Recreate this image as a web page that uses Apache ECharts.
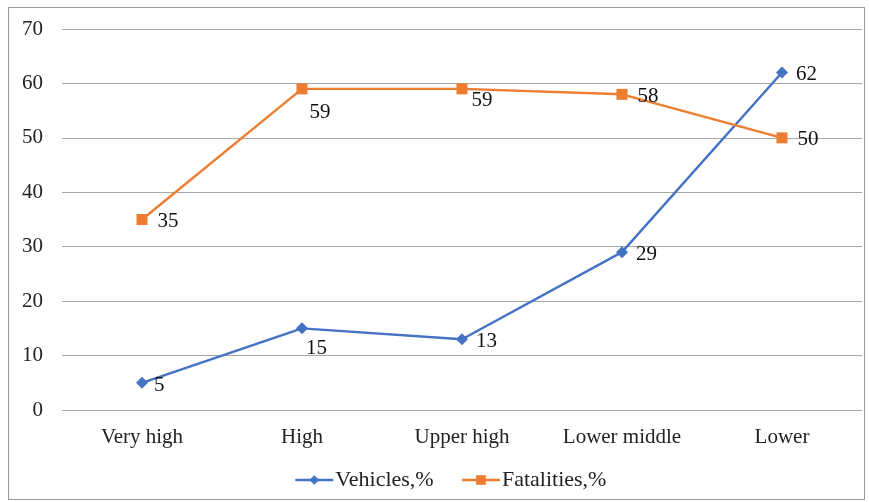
<!DOCTYPE html>
<html><head><meta charset="utf-8">
<script src="https://cdn.jsdelivr.net/npm/echarts@6/dist/echarts.min.js"></script>
<style>html,body{margin:0;padding:0;background:#fff}#c{width:869px;height:502px}
#frame{position:absolute;left:8px;top:7px;width:857px;height:493px;border:1px solid #9a9a9a;box-sizing:border-box;pointer-events:none}</style>
</head><body><div id="c"></div><div id="frame"></div>
<script>
const categories = ['Very high', 'High', 'Upper high', 'Lower middle', 'Lower'];
const vehicles = [5, 15, 13, 29, 62];
const fatalities = [35, 59, 59, 58, 50];
const yTicks = [0, 10, 20, 30, 40, 50, 60, 70];

const vehOffsets = [[-2, 3], [-10, 20], [0, 2], [0, 2], [0, 2]];
const fatOffsets = [[0, 2], [-8, 24], [-6, 12], [0, 2], [0, 2]];
const font = 'Liberation Serif, Times New Roman, serif';

function mk(vals, offs) {
  return vals.map((v, i) => ({ value: v, label: { offset: offs[i] } }));
}

const chart = echarts.init(document.getElementById('c'), null, { renderer: 'canvas' });
chart.setOption({
  animation: false,
  backgroundColor: '#fff',
  grid: { left: 62, right: 7, top: 29, bottom: 92, containLabel: false },
  xAxis: {
    type: 'category', data: categories, boundaryGap: true,
    axisLine: { show: false }, axisTick: { show: false },
    axisLabel: { color: '#222', fontFamily: font, fontSize: 21, margin: 17 }
  },
  yAxis: {
    type: 'value', min: yTicks[0], max: yTicks[yTicks.length - 1], interval: 10,
    axisLine: { show: false }, axisTick: { show: false },
    axisLabel: { color: '#222', fontFamily: font, fontSize: 21, margin: 19 },
    splitLine: { lineStyle: { color: '#a6a6a6', width: 1 } }
  },
  legend: {
    bottom: 6, left: 289, itemWidth: 38, itemHeight: 12, itemGap: 27,
    lineStyle: { width: 2.6 },
    textStyle: { color: '#222', fontFamily: font, fontSize: 22, padding: [0, 0, 0, -3] },
    data: ['Vehicles,%', 'Fatalities,%']
  },
  series: [
    {
      name: 'Vehicles,%', type: 'line', data: mk(vehicles, vehOffsets),
      color: '#4472C4', symbol: 'diamond', symbolSize: 12,
      lineStyle: { width: 2.4, color: '#4472C4' },
      itemStyle: { color: '#4472C4' },
      label: { show: true, position: 'right', distance: 8, color: '#111', fontFamily: font, fontSize: 21 }
    },
    {
      name: 'Fatalities,%', type: 'line', data: mk(fatalities, fatOffsets),
      color: '#ED7D31', symbol: 'rect', symbolSize: 11,
      lineStyle: { width: 2.4, color: '#ED7D31' },
      itemStyle: { color: '#ED7D31' },
      label: { show: true, position: 'right', distance: 10, color: '#111', fontFamily: font, fontSize: 21 }
    }
  ]
});
</script></body></html>
